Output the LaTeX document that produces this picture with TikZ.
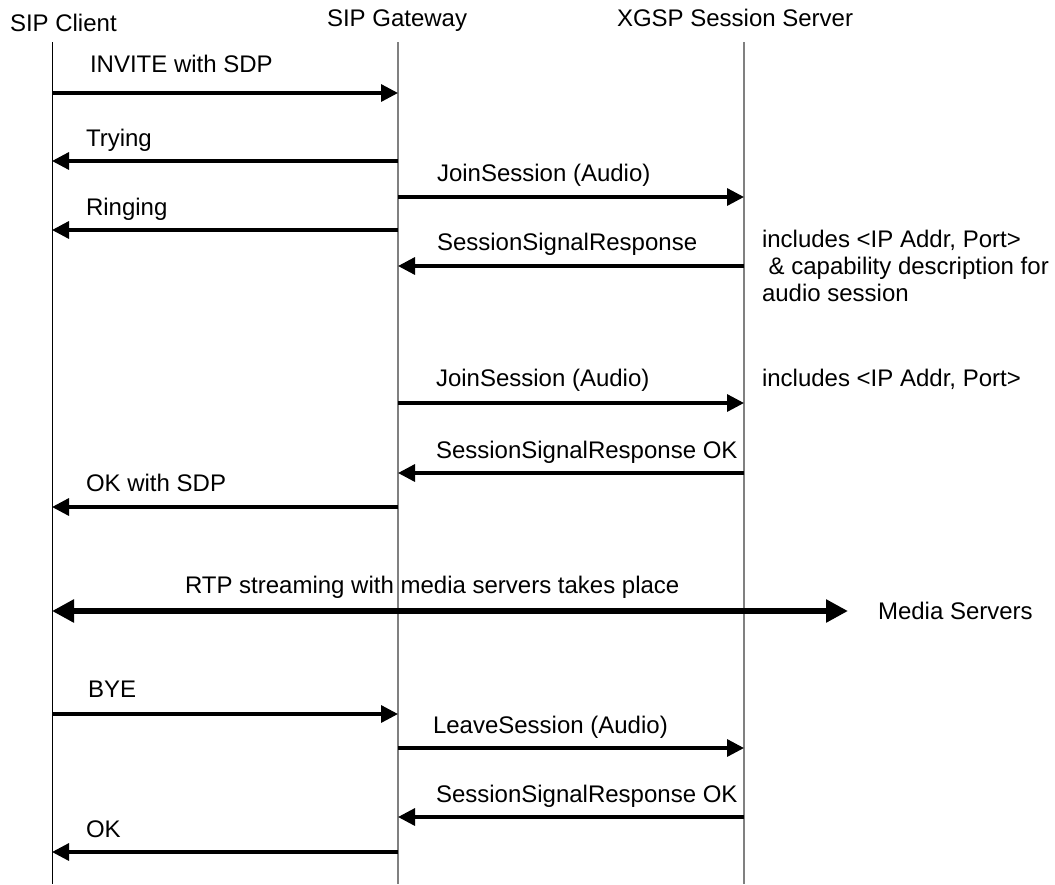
\documentclass[tikz,border=0pt]{standalone}
\usepackage{fontspec}
\setmainfont{Liberation Sans}
\usetikzlibrary{arrows.meta}

\begin{document}
\begin{tikzpicture}[x=1pt,y=-1pt,
  every node/.style={font=\fontsize{24}{27}\selectfont, inner sep=0pt, outer sep=0pt},
  head/.style={anchor=base west},
  lbl/.style={anchor=base west},
  lifeline/.style={line width=1.5pt, draw=gray},
  clientline/.style={line width=1pt, draw=black},
  msg/.style={line width=3.3pt, -{Triangle[length=17pt,width=17pt]}},
  stream/.style={line width=6pt, {Triangle[length=22pt,width=22pt]}-{Triangle[length=22pt,width=22pt]}}
]
\useasboundingbox (0,0) rectangle (1055,884);

% participants
\node[head] (client)  at (10,31)  {SIP Client};
\node[head] (gateway) at (327,26) {SIP Gateway};
\node[head] (server)  at (617,26) {XGSP Session Server};

% lifelines
\def\xc{52}
\def\xg{398}
\def\xs{744}
\coordinate (cTop) at (\xc,42);  \coordinate (cBot) at (\xc,884);
\coordinate (gTop) at (\xg,42);  \coordinate (gBot) at (\xg,884);
\coordinate (sTop) at (\xs,42);  \coordinate (sBot) at (\xs,884);
\draw[clientline] (cTop) -- (cBot);
\draw[lifeline] (gTop) -- (gBot);
\draw[lifeline] (sTop) -- (sBot);

% message end points on the lifelines
\coordinate (inviteC) at (\xc,93);   \coordinate (inviteG) at (\xg,93);
\coordinate (tryG)    at (\xg,161);  \coordinate (tryC)    at (\xc,161);
\coordinate (joinAG)  at (\xg,197);  \coordinate (joinAS)  at (\xs,197);
\coordinate (ringG)   at (\xg,230);  \coordinate (ringC)   at (\xc,230);
\coordinate (ssrS)    at (\xs,266);  \coordinate (ssrG)    at (\xg,266);
\coordinate (joinBG)  at (\xg,403);  \coordinate (joinBS)  at (\xs,403);
\coordinate (okAS)    at (\xs,473);  \coordinate (okAG)    at (\xg,473);
\coordinate (okSdpG)  at (\xg,507);  \coordinate (okSdpC)  at (\xc,507);
\coordinate (rtpC)    at (\xc,611);  \coordinate (media)   at (848,611);
\coordinate (byeC)    at (\xc,714);  \coordinate (byeG)    at (\xg,714);
\coordinate (leaveG)  at (\xg,748);  \coordinate (leaveS)  at (\xs,748);
\coordinate (okBS)    at (\xs,817);  \coordinate (okBG)    at (\xg,817);
\coordinate (okG)     at (\xg,852);  \coordinate (okC)     at (\xc,852);

% messages
\draw[msg] (inviteC) -- (inviteG);
\node[lbl] (lInvite) at (90,72) {INVITE with SDP};

\draw[msg] (tryG) -- (tryC);
\node[lbl] (lTry) at (86,146) {Trying};

\draw[msg] (joinAG) -- (joinAS);
\node[lbl] (lJoinA) at (437,181) {JoinSession (Audio)};

\draw[msg] (ringG) -- (ringC);
\node[lbl] (lRing) at (86,215) {Ringing};

\draw[msg] (ssrS) -- (ssrG);
\node[lbl] (lSsr) at (437,250) {SessionSignalResponse};
\node[lbl] (note1a) at (762,247) {includes <IP Addr, Port>};
\node[lbl] (note1b) at (762,274) {\ \& capability description for};
\node[lbl] (note1c) at (762,301) {audio session};

\draw[msg] (joinBG) -- (joinBS);
\node[lbl] (lJoinB) at (436,386) {JoinSession (Audio)};
\node[lbl] (note2) at (762,386) {includes <IP Addr, Port>};

\draw[msg] (okAS) -- (okAG);
\node[lbl] (lOkA) at (436,458) {SessionSignalResponse OK};

\draw[msg] (okSdpG) -- (okSdpC);
\node[lbl] (lOkSdp) at (86,491) {OK with SDP};

% media streaming
\draw[stream] (rtpC) -- (media);
\node[lbl] (lRtp) at (185,593) {RTP streaming with media servers takes place};
\node[lbl] (mediaServers) at (878,619) {Media Servers};

% teardown
\draw[msg] (byeC) -- (byeG);
\node[lbl] (lBye) at (88,697) {BYE};

\draw[msg] (leaveG) -- (leaveS);
\node[lbl] (lLeave) at (433,733) {LeaveSession (Audio)};

\draw[msg] (okBS) -- (okBG);
\node[lbl] (lOkB) at (436,802) {SessionSignalResponse OK};

\draw[msg] (okG) -- (okC);
\node[lbl] (lOk) at (86,837) {OK};
\end{tikzpicture}
\end{document}
